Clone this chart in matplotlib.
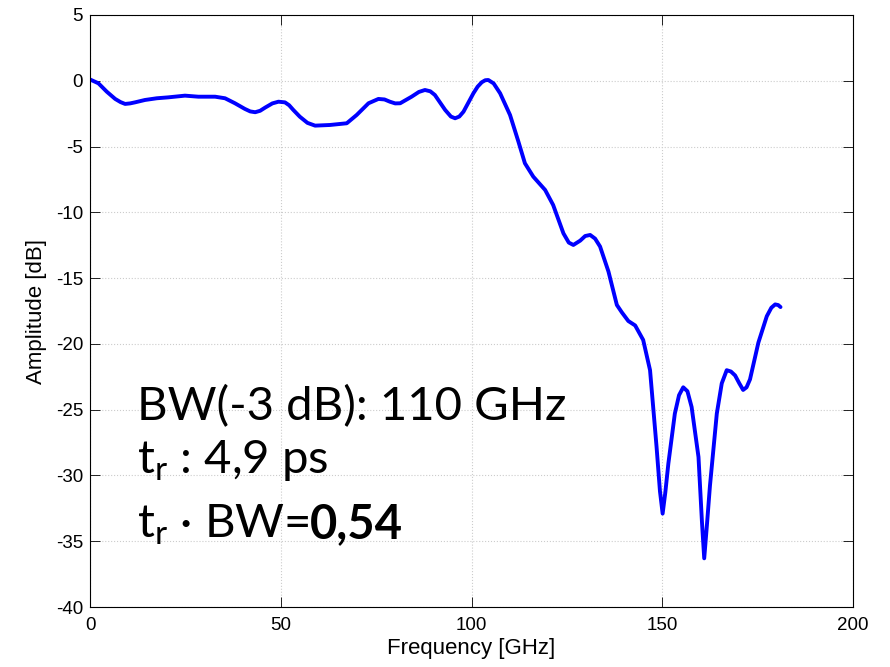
import numpy as np
import matplotlib
matplotlib.use("Agg")
import matplotlib.pyplot as plt

# frequency response
freq = [0, 2.2, 4.4, 6.6, 8.0, 9.2, 10.5, 11.8, 14.4, 17.5, 20.5, 24.9, 28.4,
        32.8, 35.4, 38, 40.6, 42.0, 43.3, 44.6, 45.9, 47.8, 49.4, 51.1, 52.2,
        53.3, 55, 57.0, 59, 62.9, 67.3, 69.9, 73, 75.6, 77.2, 78.6, 80.0,
        81.3, 84.3, 86.2, 87.8, 89.2, 90.4, 93.1, 94.6, 95.7, 96.8, 97.9,
        100.5, 101.6, 102.7, 103.6, 104.4, 105.8, 107.5, 110.1, 112.3, 114,
        116.2, 119.3, 121.4, 124.1, 125.5, 126.7, 128.5, 129.8, 131.1, 132.4,
        133.7, 135.9, 138.1, 139.4, 141.1, 142.9, 145, 146.8, 148.5, 149.4,
        150.1, 150.8, 151.6, 153.3, 154.4, 155.5, 156.6, 157.7, 159.5, 160.4,
        161, 161.7, 162.5, 164.3, 165.6, 166.9, 168.0, 169.1, 170.2, 171.2,
        172.1, 173, 175.2, 177.4, 178.6, 179.6, 180.4, 181]
amp = [0.1, -0.19, -0.83, -1.38, -1.62, -1.76, -1.72, -1.64, -1.46, -1.33,
       -1.26, -1.13, -1.21, -1.21, -1.33, -1.71, -2.14, -2.33, -2.39, -2.28,
       -2.04, -1.72, -1.59, -1.64, -1.86, -2.22, -2.73, -3.2, -3.41, -3.36,
       -3.23, -2.6, -1.71, -1.38, -1.42, -1.59, -1.72, -1.71, -1.21, -0.85,
       -0.7, -0.8, -1.08, -2.22, -2.72, -2.85, -2.72, -2.35, -0.95, -0.45,
       -0.11, 0.04, 0.06, -0.2, -0.95, -2.6, -4.63, -6.27, -7.29, -8.3, -9.44,
       -11.6, -12.3, -12.48, -12.15, -11.8, -11.72, -12.0, -12.6, -14.5,
       -17.04, -17.6, -18.26, -18.6, -19.7, -22.0, -27.8, -31.2, -32.9, -31.3,
       -29.1, -25.3, -23.9, -23.3, -23.6, -24.8, -28.6, -33.5, -36.3, -33.8,
       -30.8, -25.3, -23.0, -22.0, -22.1, -22.4, -23.0, -23.5, -23.3, -22.7,
       -19.9, -17.9, -17.25, -17.0, -17.05, -17.2]

xticks = [0, 50, 100, 150, 200]
yticks = [5, 0, -5, -10, -15, -20, -25, -30, -35, -40]

tick_font = ['Liberation Sans', 'DejaVu Sans']
note_font = ['Lato', 'DejaVu Sans']

plt.rcParams['mathtext.fontset'] = 'custom'
plt.rcParams['mathtext.rm'] = 'Lato'
plt.rcParams['mathtext.it'] = 'Lato:italic'
plt.rcParams['mathtext.bf'] = 'Lato:bold'

fig = plt.figure(figsize=(8.9, 6.67), dpi=100)
ax = fig.add_axes([90/890, 1 - 607/667, 763/890, 592/667])

ax.plot(freq, amp, color='#0000ff', lw=2.8, solid_joinstyle='round',
        solid_capstyle='round')

ax.set_xlim(0, 200)
ax.set_ylim(-40, 5)
ax.set_xticks(xticks)
ax.set_yticks(yticks)
ax.set_xticklabels([str(v) for v in xticks], family=tick_font, fontsize=13.5)
ax.set_yticklabels([str(v) for v in yticks], family=tick_font, fontsize=13.5)
ax.tick_params(direction='in', length=7, width=0.6, top=True, right=True)
ax.tick_params(axis='x', pad=7)
ax.tick_params(axis='y', pad=5)
ax.grid(True, color='#cccccc', linestyle=':', linewidth=0.8)
for s in ax.spines.values():
    s.set_linewidth(0.8)

ax.set_xlabel('Frequency [GHz]', family=tick_font, fontsize=16, labelpad=3)
ax.set_ylabel('Amplitude [dB]', family=tick_font, fontsize=16, labelpad=6)

fs = 34
x0 = 137 / 890
fig.text(x0, 1 - 420/667, 'BW(-3 dB): 110 GHz', family=note_font, fontsize=fs, va='baseline')
fig.text(x0, 1 - 473/667, r'$\mathrm{t_r}$ : 4,9 ps', family=note_font, fontsize=fs, va='baseline')
t3 = fig.text(x0, 1 - 538/667, r'$\mathrm{t_r}$ · BW=', family=note_font, fontsize=fs, va='baseline')

fig.canvas.draw()
bb = t3.get_window_extent()
fig.text(bb.x1 / fig.bbox.width, 1 - 538/667, '0,54', family=note_font,
         fontsize=fs, fontweight='bold', va='baseline')

fig.savefig('out.png', dpi=100)
